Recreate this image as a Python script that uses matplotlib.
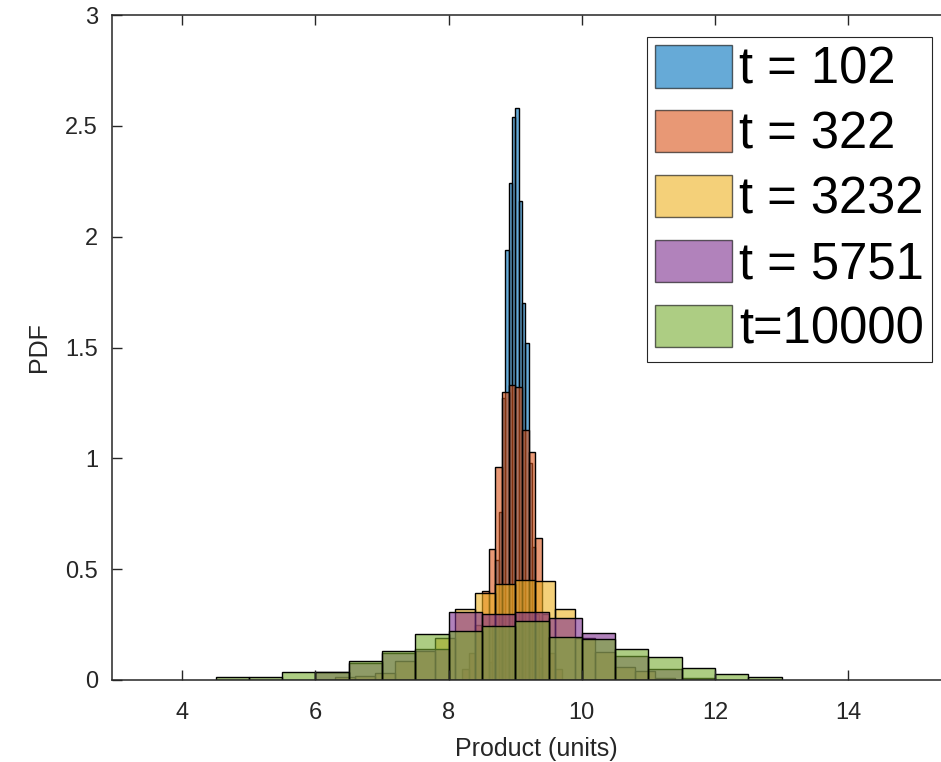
import numpy as np
import matplotlib
matplotlib.use('Agg')
import matplotlib.pyplot as plt

plt.rcParams['font.family'] = ['Liberation Sans', 'DejaVu Sans']

# Histogram data (bin left edges + PDF values)
labels = ['t = 102', 't = 322', 't = 3232', 't = 5751', 't=10000']

t102_left = np.round(np.arange(8.60, 9.36, 0.05), 2)
t102_pdf = [0.08, 0.25, 0.54, 0.76, 1.27, 1.94, 2.24, 2.54,
            2.58, 2.16, 1.70, 1.52, 0.98, 0.60, 0.30, 0.10]

t322_left = np.round(np.arange(8.2, 9.61, 0.1), 2)
t322_pdf = [0.05, 0.12, 0.25, 0.40, 0.59, 0.96, 1.30, 1.33,
            1.32, 1.13, 1.03, 0.64, 0.30, 0.12, 0.05]

t3232_left = np.round(np.arange(6.3, 11.11, 0.3), 2)
t3232_pdf = [0.015, 0.02, 0.03, 0.086, 0.13, 0.19, 0.319, 0.391, 0.432,
             0.451, 0.448, 0.319, 0.19, 0.126, 0.06, 0.04, 0.01]

t5751_left = np.round(np.arange(6.0, 11.51, 0.5), 2)
t5751_pdf = [0.035, 0.075, 0.12, 0.14, 0.308, 0.30, 0.305, 0.278,
             0.21, 0.11, 0.05, 0.01]

t10000_left = np.round(np.arange(4.5, 12.51, 0.5), 2)
t10000_pdf = [0.012, 0.015, 0.037, 0.036, 0.087, 0.13, 0.207, 0.22, 0.245,
              0.265, 0.195, 0.185, 0.141, 0.105, 0.053, 0.027, 0.015]

bin_widths = [0.05, 0.1, 0.3, 0.5, 0.5]

# MATLAB default colour order
colors = ['#0072BD', '#D95319', '#EDB120', '#7E2F8E', '#77AC30']


def create_figure():
    # Figure of 941x762 px, axes runs past the right edge like the original
    fig = plt.figure(figsize=(9.41, 7.62), dpi=100)
    ax = fig.add_axes([112 / 941, (762 - 680) / 762, (960 - 112) / 941, 665 / 762])
    return fig, ax


def draw_histograms(ax):
    lefts = [t102_left, t322_left, t3232_left, t5751_left, t10000_left]
    pdfs = [t102_pdf, t322_pdf, t3232_pdf, t5751_pdf, t10000_pdf]

    handles = []
    for left, pdf, w, c, lab in zip(lefts, pdfs, bin_widths, colors, labels):
        bars = ax.bar(left, pdf, width=w, align='edge', color=c, alpha=0.6,
                      edgecolor='none', label=lab)
        # Black outlines drawn fully opaque on top of the face
        ax.bar(left, pdf, width=w, align='edge', facecolor='none',
               edgecolor='black', linewidth=1.0)
        handles.append(bars)
    return handles


def style_axes(ax):
    ax.set_xlim(2.945, 4 + (960 - 181.7) / 66.65)
    ax.set_ylim(0, 3)
    ax.set_xticks([4, 6, 8, 10, 12, 14])
    ax.set_yticks([0, 0.5, 1, 1.5, 2, 2.5, 3])
    ax.set_yticklabels(['0', '0.5', '1', '1.5', '2', '2.5', '3'])

    for s in ax.spines.values():
        s.set_color('#262626')
        s.set_linewidth(1.1)

    ax.tick_params(direction='in', length=7, width=1.0, colors='#262626',
                   labelsize=17, top=True, right=False)
    ax.tick_params(axis='x', pad=16)
    ax.tick_params(axis='y', pad=10)

    ax.set_xlabel('Product (units)', fontsize=18, color='#262626', labelpad=9)
    ax.set_ylabel('PDF', fontsize=18, color='#262626', labelpad=10)


def add_legend(fig, ax, handles):
    leg = ax.legend(handles=handles, labels=labels, loc='upper right',
                    bbox_to_anchor=(932 / 941, 1 - 37 / 762),
                    bbox_transform=fig.transFigure, borderaxespad=0,
                    fontsize=36.5, fancybox=False, framealpha=1,
                    edgecolor='#262626', borderpad=0.16,
                    handlelength=1.53, handleheight=0.91,
                    handletextpad=0.13, labelspacing=0.3)
    leg.get_frame().set_linewidth(0.8)
    for p in leg.get_patches():
        p.set_edgecolor('black')
        p.set_linewidth(1.0)


fig, ax = create_figure()
handles = draw_histograms(ax)
style_axes(ax)
add_legend(fig, ax, handles)
fig.savefig('out.png', dpi=100)
